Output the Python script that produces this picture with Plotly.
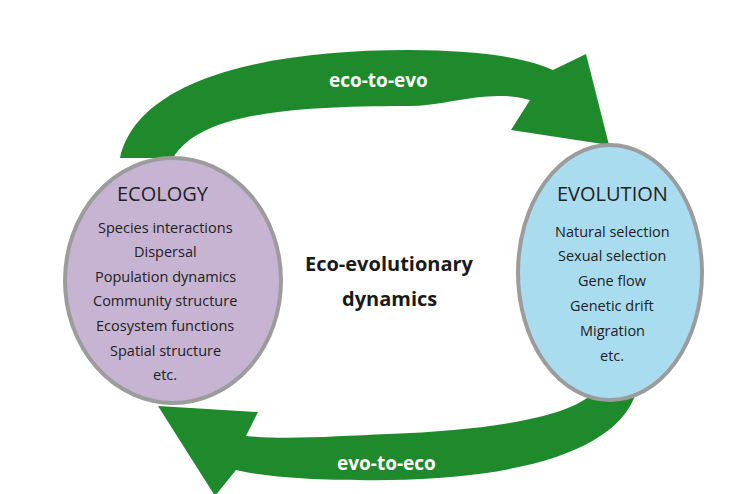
import plotly.graph_objects as go

W, H = 745, 494

ecology_items = ["Species interactions", "Dispersal", "Population dynamics",
                 "Community structure", "Ecosystem functions", "Spatial structure", "etc."]
evolution_items = ["Natural selection", "Sexual selection", "Gene flow",
                   "Genetic drift", "Migration", "etc."]
center_lines = ["Eco-evolutionary", "dynamics"]
arrow_labels = ["eco-to-evo", "evo-to-eco"]

green = "#1f8a2c"
fig = go.Figure()

# arrows (pixel coordinates, y down)
top_arrow = ("M 112,150 C 130,70 260,42 400,42 C 470,42 520,50 545,62 "
             "L 578,46 L 601,137 L 503,122 L 522,92 "
             "C 480,80 440,98 400,98 C 260,98 190,110 165,150 Z")
bottom_arrow = ("M 628,385 C 610,440 520,470 380,472 C 320,473 260,470 228,462 "
                "L 207,488 L 150,398 L 250,404 L 238,428 "
                "C 280,432 330,428 380,426 C 480,422 560,410 585,385 Z")
fig.add_shape(type="path", path=top_arrow, fillcolor=green, line_width=0, layer="below")
fig.add_shape(type="path", path=bottom_arrow, fillcolor=green, line_width=0, layer="below")

# ellipses
fig.add_shape(type="circle", x0=57, x1=273, y0=150, y1=395,
              fillcolor="#c6b4d2", line=dict(color="#9c9c9c", width=4))
fig.add_shape(type="circle", x0=510, x1=694, y0=137, y1=392,
              fillcolor="#a9dcee", line=dict(color="#9c9c9c", width=4))

font = "Open Sans, Liberation Sans, sans-serif"
fig.add_annotation(x=155, y=185, text="ECOLOGY", showarrow=False,
                   font=dict(size=20, family=font, color="#222"))
for i, t in enumerate(ecology_items):
    fig.add_annotation(x=157, y=219 + i * 24.6, text=t, showarrow=False,
                       font=dict(size=14.5, family=font, color="#222"))
fig.add_annotation(x=604, y=185, text="EVOLUTION", showarrow=False,
                   font=dict(size=20, family=font, color="#222"))
for i, t in enumerate(evolution_items):
    fig.add_annotation(x=604, y=223 + i * 24.8, text=t, showarrow=False,
                       font=dict(size=14.5, family=font, color="#222"))
for i, t in enumerate(center_lines):
    fig.add_annotation(x=381, y=255 + i * 35, text="<b>%s</b>" % t, showarrow=False,
                       font=dict(size=20, family=font, color="#1a1a1a"))
fig.add_annotation(x=370, y=72, text="<b>%s</b>" % arrow_labels[0], showarrow=False,
                   font=dict(size=19, family=font, color="white"))
fig.add_annotation(x=378, y=455, text="<b>%s</b>" % arrow_labels[1], showarrow=False,
                   font=dict(size=19, family=font, color="white"))

fig.update_xaxes(range=[0, W], visible=False)
fig.update_yaxes(range=[H, 0], visible=False)
fig.update_layout(width=W, height=H, autosize=False, margin=dict(l=0, r=0, t=0, b=0),
                  plot_bgcolor="white", paper_bgcolor="white", showlegend=False)
fig.write_html("out.html", config={"responsive": False},
               default_width="%dpx" % W, default_height="%dpx" % H)
